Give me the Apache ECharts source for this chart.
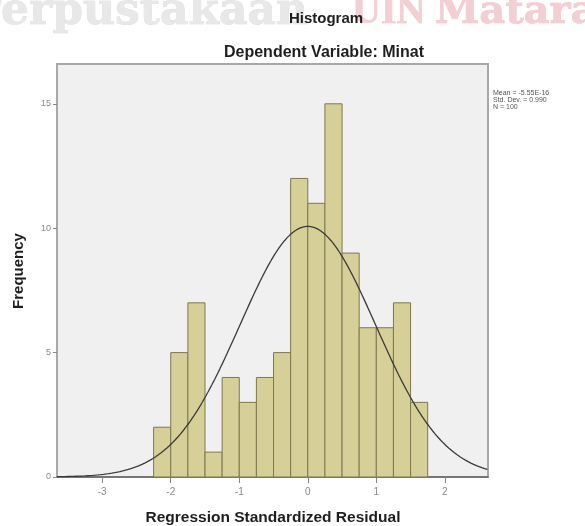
<!DOCTYPE html>
<html>
<head>
<meta charset="utf-8">
<script src="https://cdn.jsdelivr.net/npm/echarts@6/dist/echarts.min.js"></script>
<style>html,body{margin:0;padding:0;background:#fff}#c{width:585px;height:526px}</style>
</head>
<body>
<div id="c"></div>
<script>
// Data
const binStarts = [-2.25,-2.0,-1.75,-1.5,-1.25,-1.0,-0.75,-0.5,-0.25,0.0,0.25,0.5,0.75,1.0,1.25,1.5];
const binWidth = 0.25;
const counts = [2,5,7,1,4,3,4,5,12,11,15,9,6,6,7,3];
const xTicks = [-3,-2,-1,0,1,2];
const yTicks = [0,5,10,15];
const statMean = 0;
const statSd = 0.99;
const statN = 100;
const statLines = ['Mean = -5.55E-16', 'Std. Dev. = 0.990', 'N = 100'];
const xMin = -3.66, xMax = 2.63, yMax = 16.6;

const barData = binStarts.map((s, i) => [s, s + binWidth, counts[i]]);
const curve = [];
for (let x = xMin; x <= xMax + 1e-9; x += 0.02) {
  const z = (x - statMean) / statSd;
  curve.push([x, statN * binWidth / (statSd * Math.sqrt(2 * Math.PI)) * Math.exp(-0.5 * z * z)]);
}

const chart = echarts.init(document.getElementById('c'));
chart.setOption({
  backgroundColor: '#ffffff',
  animation: false,
  graphic: [
    {type:'text', x:308, y:-9, z:-10, style:{text:'Perpustakaan', font:'bold 44px "DejaVu Serif"', fill:'#e8e8e8', stroke:'#d8d8d8', lineWidth:0.6, align:'right', verticalAlign:'top'}},
    {type:'text', x:352, y:-7, z:-10, style:{text:'UIN', font:'bold 40px "Liberation Serif"', fill:'#f3cfd4', stroke:'#ecbec5', lineWidth:0.6, align:'left', verticalAlign:'top'}},
    {type:'text', x:435, y:-7, z:-10, style:{text:'Mataram', font:'bold 40px "DejaVu Serif"', fill:'#f3cfd4', stroke:'#ecbec5', lineWidth:0.6, align:'left', verticalAlign:'top'}},
    {type:'text', x:326, y:19, style:{text:'Histogram', font:'bold 15px "Liberation Sans"', fill:'#1e1e1e', align:'center', verticalAlign:'middle'}},
    {type:'text', x:324, y:53, style:{text:'Dependent Variable: Minat', font:'bold 16px "Liberation Sans"', fill:'#1e1e1e', align:'center', verticalAlign:'middle'}},
    {type:'text', x:493, y:90, style:{text:statLines.join('\n'), font:'7px "Liberation Sans"', fill:'#555', lineHeight:7}},
    {type:'text', x:273, y:518, style:{text:'Regression Standardized Residual', font:'bold 15.5px "Liberation Sans"', fill:'#1e1e1e', align:'center', verticalAlign:'middle'}},
    {type:'text', x:19, y:271, rotation:Math.PI/2, style:{text:'Frequency', font:'bold 15px "Liberation Sans"', fill:'#1e1e1e', align:'center', verticalAlign:'middle'}}
  ],
  grid: {left:57, right:97, top:64, bottom:49, show:true, backgroundColor:'#f0f0f0', borderColor:'#a8a8a8', borderWidth:2},
  xAxis: {
    type:'value', min:xMin, max:xMax,
    axisLine:{show:true, onZero:false, lineStyle:{color:'#666', width:1.5}},
    axisTick:{show:true, customValues:xTicks, length:6, lineStyle:{color:'#888'}},
    axisLabel:{customValues:xTicks, fontSize:10, color:'#888', margin:10, fontFamily:'Liberation Sans'},
    splitLine:{show:false}
  },
  yAxis: {
    type:'value', min:0, max:yMax,
    axisLine:{show:true, onZero:false, lineStyle:{color:'#a8a8a8', width:2}},
    axisTick:{show:true, customValues:yTicks, length:4, lineStyle:{color:'#888'}},
    axisLabel:{customValues:yTicks, fontSize:9, color:'#888', margin:6, fontFamily:'Liberation Sans'},
    splitLine:{show:false}
  },
  series: [
    {
      type:'custom',
      data: barData,
      encode:{x:[0,1], y:2},
      renderItem: function(params, api) {
        const p0 = api.coord([api.value(0), 0]);
        const p1 = api.coord([api.value(1), api.value(2)]);
        return {type:'rect', shape:{x:p0[0], y:p1[1], width:p1[0]-p0[0], height:p0[1]-p1[1]},
          style:{fill:'#d6cf98', stroke:'#7d7850', lineWidth:1}};
      },
      z:2
    },
    {
      type:'line', data:curve, showSymbol:false, smooth:false,
      lineStyle:{color:'#3a3a3a', width:1.3}, z:3
    }
  ]
});
</script>
</body>
</html>
